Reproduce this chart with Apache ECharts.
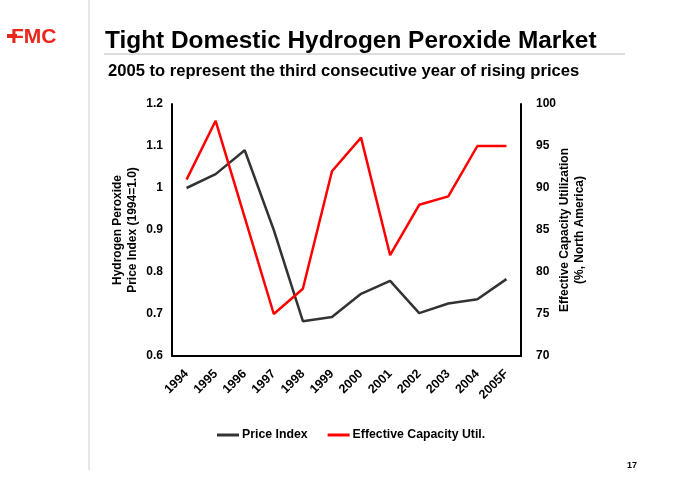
<!DOCTYPE html>
<html><head><meta charset="utf-8">
<script src="https://cdn.jsdelivr.net/npm/echarts@6/dist/echarts.min.js"></script>
<style>html,body{margin:0;padding:0;background:#fff}#c{width:680px;height:503px}</style>
</head><body><div id="c"></div>
<script>
const years = ['1994','1995','1996','1997','1998','1999','2000','2001','2002','2003','2004','2005F'];
const priceIndex = [1.0, 1.033, 1.09, 0.9, 0.683, 0.693, 0.748, 0.779, 0.702, 0.725, 0.735, 0.783];
const capacityUtil = [91, 98, 86.5, 75, 78, 92, 96, 82, 88, 89, 95, 95];
const leftTicks = [0.6, 1.2, 0.1];
const rightTicks = [70, 100, 5];

const F = 'Liberation Sans, Arial, sans-serif';
const chart = echarts.init(document.getElementById('c'));
chart.setOption({
  animation: false,
  backgroundColor: '#fff',
  grid: {left: 172, right: 159, top: 104, bottom: 147},
  legend: {
    bottom: 57, left: 212, itemWidth: 22, itemHeight: 3, itemGap: 20,
    icon: 'rect',
    textStyle: {fontFamily: F, fontWeight: 'bold', fontSize: 12.3, color: '#000', padding: [0, 0, 0, -2]},
    data: ['Price Index', 'Effective Capacity Util.']
  },
  graphic: [
    {type: 'line', shape: {x1: 89, y1: 0, x2: 89, y2: 470}, style: {stroke: '#ccc', lineWidth: 1}},
    {type: 'line', shape: {x1: 104, y1: 54, x2: 625, y2: 54}, style: {stroke: '#bbb', lineWidth: 1}},
    {type: 'text', left: 105, top: 29, style: {text: 'Tight Domestic Hydrogen Peroxide Market', font: 'bold 24.4px ' + F, fill: '#000'}},
    {type: 'text', left: 108, top: 63, style: {text: '2005 to represent the third consecutive year of rising prices', font: 'bold 16.6px ' + F, fill: '#000'}},
    {type: 'rect', shape: {x: 7, y: 34, width: 10, height: 4}, style: {fill: '#e8261c'}},
    {type: 'text', left: 11, top: 27, style: {text: 'FMC', font: 'bold 21px ' + F, fill: '#e8261c'}},
    {type: 'text', left: 627, top: 461, style: {text: '17', font: 'bold 9px ' + F, fill: '#000'}}
  ],
  xAxis: {
    type: 'category', data: years, boundaryGap: true,
    axisLine: {lineStyle: {color: '#000', width: 2}},
    axisTick: {show: false},
    axisLabel: {rotate: 45, interval: 0, fontFamily: F, fontWeight: 'bold', fontSize: 12.5, color: '#000', margin: 16}
  },
  yAxis: [
    {type: 'value', min: leftTicks[0], max: leftTicks[1], interval: leftTicks[2], position: 'left',
     name: 'Hydrogen Peroxide\nPrice Index (1994=1.0)', nameLocation: 'middle', nameGap: 32, nameMoveOverlap: false,
     nameTextStyle: {fontFamily: F, fontWeight: 'bold', fontSize: 12, color: '#000', lineHeight: 15},
     axisLine: {show: true, lineStyle: {color: '#000', width: 2}}, axisTick: {show: false}, splitLine: {show: false},
     axisLabel: {fontFamily: F, fontWeight: 'bold', fontSize: 12, color: '#000', margin: 9,
       formatter: v => (Math.abs(v - 1) < 1e-9 ? '1' : v.toFixed(1))}},
    {type: 'value', min: rightTicks[0], max: rightTicks[1], interval: rightTicks[2], position: 'right',
     name: 'Effective Capacity Utilization\n(%, North America)', nameLocation: 'middle', nameGap: 36, nameRotate: 90, nameMoveOverlap: false,
     nameTextStyle: {fontFamily: F, fontWeight: 'bold', fontSize: 12, color: '#000', lineHeight: 15},
     axisLine: {show: true, lineStyle: {color: '#000', width: 2}}, axisTick: {show: false}, splitLine: {show: false},
     axisLabel: {fontFamily: F, fontWeight: 'bold', fontSize: 12, color: '#000', margin: 15}}
  ],
  series: [
    {name: 'Price Index', type: 'line', yAxisIndex: 0, data: priceIndex, symbol: 'none',
     lineStyle: {color: '#333', width: 2.5}, itemStyle: {color: '#333'}},
    {name: 'Effective Capacity Util.', type: 'line', yAxisIndex: 1, data: capacityUtil, symbol: 'none',
     lineStyle: {color: '#ff0000', width: 2.5}, itemStyle: {color: '#ff0000'}}
  ]
});
</script></body></html>
